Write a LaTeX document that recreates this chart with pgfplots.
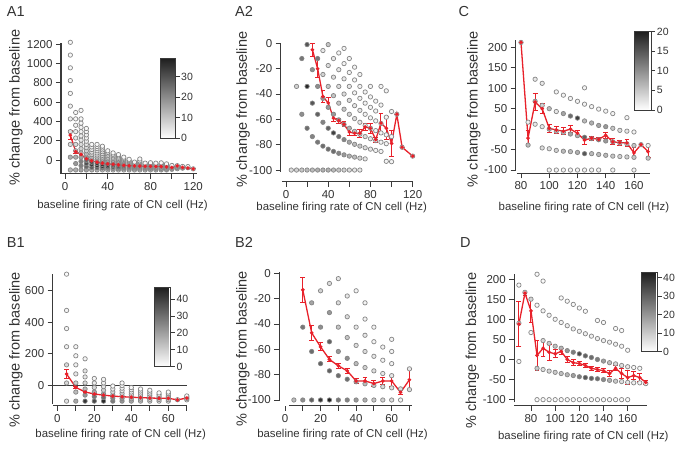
\documentclass[border=0pt]{standalone}
\usepackage{fontspec}
\setmainfont{Liberation Sans}
\usepackage{pgfplots}
\pgfplotsset{compat=1.18}
\definecolor{axgray}{HTML}{3A3A3A}
\definecolor{txt}{HTML}{333333}
\definecolor{mred}{HTML}{E8212A}
\definecolor{ptedge}{HTML}{858585}

\tikzset{axl/.style={axgray, line width=1.1pt}}
\pgfplotsset{
  colormap={gs}{color(0)=(white) color(1)=(black!88)},
  panel/.style={
    scale only axis, anchor=south west,
    axis x line*=bottom, axis y line*=left,
    axis line style={draw=none},
    tick align=outside,
    major tick length=5pt, minor tick length=5pt,
    tick style={axgray, line width=0.9pt},
    tick label style={font=\fontsize{11.5}{13}\selectfont, text=txt},
    xlabel style={font=\fontsize{11.4}{13}\selectfont, text=txt, anchor=center},
    ylabel style={font=\fontsize{14.5}{17}\selectfont, text=txt, anchor=center},
    /pgf/number format/assume math mode=true,
    /pgf/number format/1000 sep={},
    clip=false, point meta min=0,
    xlabel={baseline firing rate of CN cell (Hz)},
    ylabel={\% change from baseline},
  },
  cbar/.style={
    scale only axis, anchor=south west,
    at={(parent axis.south west)},
    axis line style={axgray, line width=0.9pt},
    tick align=outside, major tick length=4pt,
    tick style={axgray, line width=0.9pt},
    ytick pos=right, yticklabel pos=right,
    yticklabel style={font=\fontsize{10.5}{12}\selectfont, text=txt, inner sep=1.5pt},
    /pgf/number format/assume math mode=true,
  },
  dots/.style={scatter, only marks, mark=*, mark size=2.2pt, line width=0.7pt,
    point meta=explicit, scatter/use mapped color={draw=ptedge, fill=mapped color}},
  redl/.style={mred, line width=1.3pt, mark=*, mark size=1.1pt,
    error bars/y dir=both, error bars/y explicit,
    error bars/error bar style={line width=1pt, mred},
    error bars/error mark options={rotate=90, mred, mark size=2.4pt, line width=1pt}},
}

\begin{document}
\begin{tikzpicture}
\path[use as bounding box] (0pt,0pt) rectangle (675pt,448pt);

% ---------------- A1
\begin{axis}[panel, at={(61pt,274.3pt)}, width=136pt, height=131pt,
  xmin=-3.74, xmax=123.5, ymin=-139, ymax=1216,
  xtick={0,40,80,120}, minor xtick={20,60,100}, ytick={0,200,...,1200},
  point meta max=39,
  colorbar, colorbar style={cbar, xshift=91pt, yshift=35.4pt, width=15pt, height=80pt, ytick={0,10,20,30}},
  xlabel style={at={(axis description cs:0.452,0)}, yshift=-32pt},
  ylabel style={at={(axis description cs:-0.331,0.505)}},
]
\draw[axl] (axis cs:-3.74,-139) -- (axis cs:-3.74,1216);
\draw[axl] (axis cs:-3.74,-139) -- (axis cs:123.5,-139);
\addplot[dots] table[row sep=\\, meta index=2] {
5 -100 12\\ 5 32 14\\ 5 164 6\\ 5 296 5\\ 5 428 3\\ 5 560 2\\ 5 692 1\\ 5 824 1\\ 5 956 1\\ 5 1088 1\\ 5 1220 1\\
10 -100 14\\ 10 -34 18\\ 10 32 14\\ 10 98 9\\ 10 164 6\\ 10 230 4\\ 10 296 3\\ 10 362 2\\ 10 428 1\\ 10 494 1\\
15 -100 16\\ 15 -56 22\\ 15 -12 22\\ 15 32 16\\ 15 76 11\\ 15 120 8\\ 15 164 6\\ 15 208 4\\ 15 252 3\\ 15 296 2\\ 15 340 2\\ 15 384 1\\ 15 428 1\\ 15 516 1\\
20 -100 16\\ 20 -67 26\\ 20 -34 30\\ 20 -1 26\\ 20 32 18\\ 20 65 12\\ 20 98 8\\ 20 131 6\\ 20 164 4\\ 20 197 3\\ 20 230 2\\ 20 263 2\\ 20 296 1\\ 20 329 1\\
25 -100 14\\ 25 -73.6 28\\ 25 -47.2 34\\ 25 -20.8 30\\ 25 5.6 20\\ 25 32 12\\ 25 58.4 8\\ 25 84.8 5\\ 25 111.2 3\\ 25 137.6 2\\ 25 164 1\\
30 -100 12\\ 30 -78 28\\ 30 -56 36\\ 30 -34 34\\ 30 -12 24\\ 30 10 15\\ 30 32 10\\ 30 54 6\\ 30 76 4\\ 30 98 3\\ 30 120 2\\ 30 142 1\\ 30 164 1\\
35 -100 10\\ 35 -81.1 24\\ 35 -62.3 36\\ 35 -43.4 37\\ 35 -24.6 30\\ 35 -5.7 20\\ 35 13.1 12\\ 35 32 8\\ 35 50.9 5\\ 35 69.7 3\\ 35 88.6 2\\ 35 107.4 1\\ 35 126.3 1\\ 35 145.1 1\\
40 -100 8\\ 40 -83.5 20\\ 40 -67 34\\ 40 -50.5 38\\ 40 -34 34\\ 40 -17.5 25\\ 40 -1 15\\ 40 15.5 10\\ 40 32 6\\ 40 48.5 4\\ 40 65 2\\ 40 81.5 1\\ 40 98 1\\
45 -100 7\\ 45 -85.3 16\\ 45 -70.7 30\\ 45 -56 36\\ 45 -41.3 34\\ 45 -26.7 27\\ 45 -12 18\\ 45 2.7 10\\ 45 17.3 6\\ 45 32 4\\ 45 46.7 2\\ 45 61.3 1\\ 45 76 1\\
50 -100 6\\ 50 -86.8 14\\ 50 -73.6 26\\ 50 -60.4 34\\ 50 -47.2 33\\ 50 -34 26\\ 50 -20.8 18\\ 50 -7.6 10\\ 50 5.6 6\\ 50 18.8 4\\ 50 32 2\\ 50 45.2 1\\ 50 58.4 1\\
55 -100 5\\ 55 -88 12\\ 55 -76 22\\ 55 -64 30\\ 55 -52 30\\ 55 -40 24\\ 55 -28 16\\ 55 -16 9\\ 55 -4 5\\ 55 8 3\\ 55 20 2\\ 55 32 1\\
60 -100 5\\ 60 -89 10\\ 60 -78 18\\ 60 -67 26\\ 60 -56 26\\ 60 -45 20\\ 60 -34 13\\ 60 -23 8\\ 60 -12 4\\ 60 -1 2\\ 60 10 1\\
65 -100 4\\ 65 -89.8 9\\ 65 -79.7 15\\ 65 -69.5 20\\ 65 -59.4 20\\ 65 -49.2 14\\ 65 -39.1 8\\ 65 -28.9 4\\ 65 -18.8 2\\
70 -100 4\\ 70 -90.6 8\\ 70 -81.1 13\\ 70 -71.7 17\\ 70 -62.3 16\\ 70 -52.9 11\\ 70 -43.4 7\\ 70 -34 4\\ 70 -24.6 2\\ 70 -15.1 1\\ 70 -5.7 1\\ 70 13.1 1\\
75 -100 3\\ 75 -91.2 7\\ 75 -82.4 12\\ 75 -73.6 14\\ 75 -64.8 12\\ 75 -56 8\\ 75 -47.2 5\\ 75 -38.4 3\\ 75 -29.6 1\\
80 -100 3\\ 80 -91.8 6\\ 80 -83.5 10\\ 80 -75.3 12\\ 80 -67 10\\ 80 -58.8 7\\ 80 -50.5 4\\ 80 -42.3 3\\ 80 -34 2\\ 80 -25.8 1\\
85 -100 2\\ 85 -92.2 5\\ 85 -84.5 8\\ 85 -76.7 10\\ 85 -68.9 8\\ 85 -61.2 5\\ 85 -53.4 3\\ 85 -45.6 2\\ 85 -37.9 1\\ 85 -30.1 1\\
90 -100 2\\ 90 -92.7 4\\ 90 -85.3 6\\ 90 -78 8\\ 90 -70.7 6\\ 90 -63.3 4\\ 90 -56 3\\ 90 -48.7 2\\ 90 -41.3 1\\ 90 -34 1\\ 90 -26.7 1\\
95 -100 1\\ 95 -93.1 3\\ 95 -86.1 5\\ 95 -79.2 6\\ 95 -72.2 5\\ 95 -65.3 3\\ 95 -58.3 2\\ 95 -51.4 1\\ 95 -44.4 1\\ 95 -37.5 1\\
100 -93.4 2\\ 100 -86.8 4\\ 100 -80.2 4\\ 100 -73.6 3\\ 100 -67 2\\ 100 -60.4 1\\ 100 -53.8 1\\
105 -87.4 1\\ 105 -81.1 2\\ 105 -74.9 2\\ 105 -68.6 1\\ 105 -62.3 1\\ 105 -56 1\\
110 -82 1\\ 110 -76 1\\ 110 -70 1\\ 110 -64 1\\
115 -77 1\\ 115 -71.3 1\\ 115 -65.6 1\\
120 -89 1\\
};
\addplot[redl] table[row sep=\\, y error index=2] {
5 260 45\\ 10 90 15\\ 15 60 10\\ 20 15 6\\ 25 -5 4\\ 30 -20 3\\ 35 -30 3\\ 40 -37 2\\ 45 -42 2\\ 50 -47 2\\
55 -52 2\\ 60 -56 2\\ 65 -58 2\\ 70 -60 2\\ 75 -62 2\\ 80 -63 2\\ 85 -65 2\\ 90 -65 3\\ 95 -68 3\\ 100 -75 4\\
105 -58 5\\ 110 -74 3\\ 115 -80 0\\ 120 -89 0\\
};
\end{axis}

% ---------------- A2
\begin{axis}[panel, at={(280.7pt,266.3pt)}, width=132.6pt, height=139pt,
  xmin=-5, xmax=120.6, ymin=-109.2, ymax=0.5,
  xtick={0,40,80,120}, minor xtick={20,60,100}, ytick={-100,-80,...,0},
  point meta max=20,
  xlabel style={at={(axis description cs:0.46,0)}, yshift=-25.8pt},
  ylabel style={at={(axis description cs:-0.284,0.52)}},
]
\draw[axl] (axis cs:-5,-101.3) -- (axis cs:-5,0.5);
\draw[axl] (axis cs:-4,-109.2) -- (axis cs:120.6,-109.2);
\addplot[dots] table[row sep=\\, meta index=2] {
5 -100 3\\
10 -100 4\\ 10 -34 4\\
15 -100 5\\ 15 -56 10\\ 15 -12 12\\
20 -100 6\\ 20 -67 13\\ 20 -34 19\\ 20 -1 15\\
25 -100 6\\ 25 -73.6 11\\ 25 -47.2 15\\ 25 -20.8 10\\
30 -100 7\\ 30 -78 12\\ 30 -56 14\\ 30 -34 10\\ 30 -12 12\\
35 -100 7\\ 35 -81.1 13\\ 35 -62.3 11\\ 35 -43.4 9\\ 35 -24.6 4\\ 35 -5.7 2\\
40 -100 7\\ 40 -83.5 13\\ 40 -67 14\\ 40 -50.5 9\\ 40 -34 5\\ 40 -17.5 3\\ 40 -1 5\\
45 -100 6\\ 45 -85.3 13\\ 45 -70.7 17\\ 45 -56 9\\ 45 -41.3 5\\ 45 -26.7 3\\ 45 -12 2\\
50 -100 5\\ 50 -86.8 11\\ 50 -73.6 13\\ 50 -60.4 9\\ 50 -47.2 5\\ 50 -34 3\\ 50 -20.8 2\\ 50 -7.6 1\\
55 -100 4\\ 55 -88 9\\ 55 -76 11\\ 55 -64 8\\ 55 -52 5\\ 55 -40 3\\ 55 -28 2\\ 55 -16 1\\ 55 -4 1\\
60 -100 3\\ 60 -89 7\\ 60 -78 8\\ 60 -67 7\\ 60 -56 4\\ 60 -45 3\\ 60 -34 2\\ 60 -23 1\\ 60 -12 1\\
65 -100 2\\ 65 -89.8 6\\ 65 -79.7 6\\ 65 -69.5 5\\ 65 -59.4 3\\ 65 -49.2 2\\ 65 -39.1 1\\ 65 -28.9 1\\ 65 -18.8 1\\
70 -100 2\\ 70 -90.6 4\\ 70 -81.1 5\\ 70 -71.7 4\\ 70 -62.3 2\\ 70 -52.9 2\\ 70 -43.4 1\\ 70 -34 1\\ 70 -24.6 1\\
75 -91.2 2\\ 75 -82.4 3\\ 75 -73.6 3\\ 75 -64.8 2\\ 75 -56 1\\ 75 -47.2 1\\ 75 -38.4 1\\
80 -83.5 2\\ 80 -75.3 2\\ 80 -67 2\\ 80 -58.8 1\\ 80 -50.5 1\\ 80 -42.3 1\\ 80 -34 1\\
85 -84.5 1\\ 85 -76.7 2\\ 85 -68.9 1\\ 85 -61.2 1\\ 85 -53.4 1\\ 85 -45.6 1\\
90 -85.3 1\\ 90 -78 1\\ 90 -70.7 1\\ 90 -63.3 1\\ 90 -48.7 1\\ 90 -34 1\\
95 -93.1 1\\ 95 -79.2 1\\ 95 -72.2 1\\ 95 -58.3 1\\ 95 -37.5 1\\
100 -93.4 1\\ 100 -73.6 1\\ 100 -53.8 1\\
105 -56 1\\ 110 -82 1\\ 120 -89 1\\
};
\addplot[redl] table[row sep=\\, y error index=2] {
25 -5 5\\ 30 -20 7\\ 35 -42 5\\ 40 -47 4\\ 45 -59 2.5\\ 50 -61 2\\ 55 -64 2\\ 60 -70 3\\ 65 -71 2\\ 70 -71 3\\
75 -66 3\\ 80 -67 4\\ 85 -76 2\\ 90 -63 8\\ 95 -67 9\\ 100 -79 10\\ 105 -56 0\\ 110 -82 0\\ 120 -89 0\\
};
\end{axis}

% ---------------- C
\begin{axis}[panel, at={(515.7pt,274.7pt)}, width=133.8pt, height=133.3pt,
  xmin=76.25, xmax=171, ymin=-108, ymax=217.9,
  xtick={80,100,...,160}, ytick={-100,-50,...,200},
  point meta max=20,
  colorbar, colorbar style={cbar, xshift=110pt, yshift=63.3pt, width=17pt, height=78.3pt, ytick={0,5,10,15,20}},
  xlabel style={at={(axis description cs:0.51,0)}, yshift=-34pt},
  ylabel style={at={(axis description cs:-0.312,0.48)}},
]
\draw[axl] (axis cs:76.25,-102) -- (axis cs:76.25,217.9);
\draw[axl] (axis cs:77,-108) -- (axis cs:171,-108);
\addplot[dots] table[row sep=\\, meta index=2] {
80 212 1\\
85 17 1\\ 85 -39 6\\
90 122 2\\ 90 68 6\\ 90 12 2\\
95 112 2\\ 95 58 4\\ 95 6 2\\ 95 -46 3\\
100 50 6\\ 100 0 7\\ 100 -48 3\\ 100 -100 1\\
105 91 1\\ 105 43 2\\ 105 -5 6\\ 105 -52 4\\ 105 -100 1\\
110 83 1\\ 110 38 8\\ 110 -8 6\\ 110 -54 6\\ 110 -100 1\\
115 75 1\\ 115 32 13\\ 115 -12 8\\ 115 -55 6\\ 115 -100 1\\
120 68 1\\ 120 27 17\\ 120 -16 7\\ 120 -57 7\\ 120 -100 1\\
125 101 1\\ 125 61 1\\ 125 20 6\\ 125 -20 14\\ 125 -60 15\\ 125 -100 1\\
130 55 1\\ 130 15 7\\ 130 -23 8\\ 130 -60 6\\ 130 -100 1\\
135 49 1\\ 135 9 8\\ 135 -26 10\\ 135 -62 6\\ 135 -100 1\\
140 44 1\\ 140 6 9\\ 140 -29 9\\ 140 -64 6\\
145 38 1\\ 145 2 5\\ 145 -31 5\\ 145 -66 5\\ 145 -100 1\\
150 -3 3\\ 150 -34 4\\ 150 -67 4\\
155 28 1\\ 155 -5 2\\ 155 -36 3\\ 155 -68 4\\
160 -7 1\\ 160 -40 5\\ 160 -69 5\\ 160 -100 1\\
165 -38 1\\ 170 -40 1\\ 170 -71 5\\
};
\addplot[redl] table[row sep=\\, y error index=2] {
80 212 0\\ 85 -22 19\\ 90 66 20\\ 95 50 12\\ 100 2 10\\ 105 -2 9\\ 110 -5 8\\ 115 0 9\\ 120 -10 6\\ 125 -27 10\\
130 -22 5\\ 135 -25 4\\ 140 -15 7\\ 145 -31 7\\ 150 -33 6\\ 155 -34 9\\ 160 -58 14\\ 165 -38 2\\ 170 -55 15\\
};
\end{axis}

% ---------------- B1
\begin{axis}[panel, at={(52.7pt,42.3pt)}, width=134.1pt, height=131.7pt,
  xmin=-2.5, xmax=70, ymin=-129, ymax=706,
  xtick={0,20,40,60}, minor xtick={10,30,50,70}, ytick={0,200,400,600},
  point meta max=47,
  colorbar, colorbar style={cbar, xshift=93pt, yshift=39pt, width=16.6pt, height=79.4pt, ytick={0,10,...,40}},
  xlabel style={at={(axis description cs:0.507,0)}, yshift=-29pt},
  ylabel style={at={(axis description cs:-0.275,0.423)}},
]
\draw[axl] (axis cs:-2.5,-117) -- (axis cs:-2.5,706);
\draw[axl] (axis cs:-2.2,-129) -- (axis cs:70,-129);
\draw[axl] (axis cs:-2.5,0) -- (axis cs:70,0);
\addplot[dots] table[row sep=\\, meta index=2] {
5 -100 6\\ 5 15 8\\ 5 130 8\\ 5 245 3\\ 5 360 2\\ 5 475 2\\ 5 705 1\\
10 -100 18\\ 10 -42.5 14\\ 10 15 10\\ 10 72.5 5\\ 10 130 3\\ 10 187.5 2\\ 10 245 2\\
15 -100 42\\ 15 -61.7 22\\ 15 -23.3 14\\ 15 15 8\\ 15 53.3 5\\ 15 91.7 6\\ 15 168.3 2\\
20 -100 38\\ 20 -71.3 28\\ 20 -42.5 18\\ 20 -13.8 8\\ 20 15 4\\ 20 43.8 2\\
25 -100 45\\ 25 -77 30\\ 25 -54 20\\ 25 -31 10\\ 25 -8 5\\ 25 15 3\\ 25 38 2\\
30 -100 28\\ 30 -80.8 25\\ 30 -61.7 16\\ 30 -42.5 8\\ 30 -23.3 4\\ 30 -4.2 1\\
35 -100 22\\ 35 -83.6 22\\ 35 -67.1 14\\ 35 -50.7 8\\ 35 -34.3 4\\ 35 -17.9 2\\ 35 -1.4 1\\ 35 15 1\\
40 -100 18\\ 40 -85.6 16\\ 40 -71.3 10\\ 40 -56.9 6\\ 40 -42.5 3\\ 40 -28.1 2\\ 40 -13.8 1\\
45 -100 14\\ 45 -87.2 12\\ 45 -74.4 8\\ 45 -61.7 5\\ 45 -48.9 3\\ 45 -36.1 2\\ 45 -23.3 1\\
50 -100 10\\ 50 -88.5 8\\ 50 -77 6\\ 50 -65.5 4\\ 50 -54 2\\ 50 -42.5 1\\ 50 -31 1\\
55 -100 6\\ 55 -89.5 6\\ 55 -79.1 4\\ 55 -68.6 2\\ 55 -58.2 1\\ 55 -47.7 1\\
60 -100 5\\ 60 -90.4 4\\ 60 -80.8 3\\ 60 -71.3 2\\ 60 -61.7 1\\ 60 -52.1 1\\ 60 -42.5 1\\
65 -91.2 2\\ 70 -91.8 2\\ 70 -83.6 1\\ 70 -75.4 1\\ 70 -67.1 1\\
};
\addplot[redl] table[row sep=\\, y error index=2] {
5 72 30\\ 10 -13 5\\ 15 -42 4\\ 20 -55 3\\ 25 -62 3\\ 30 -68 2\\ 35 -72 2\\ 40 -75 2\\ 45 -78 2\\ 50 -80 2\\
55 -82 2\\ 60 -82 2\\ 65 -92 2\\ 70 -80 5\\
};
\end{axis}

% ---------------- B2
\begin{axis}[panel, at={(279.3pt,42.3pt)}, width=133pt, height=133.4pt,
  xmin=-3.2, xmax=71.6, ymin=-104.5, ymax=0.8,
  xtick={0,20,40,60}, minor xtick={10,30,50,70}, ytick={-100,-80,...,0},
  point meta max=20,
  xlabel style={at={(axis description cs:0.475,0)}, yshift=-29pt},
  ylabel style={at={(axis description cs:-0.273,0.425)}},
]
\draw[axl] (axis cs:-3.2,-100.5) -- (axis cs:-3.2,0.8);
\draw[axl] (axis cs:2.2,-104.5) -- (axis cs:71.6,-104.5);
\addplot[dots] table[row sep=\\, meta index=2] {
5 -100 6\\
10 -100 10\\ 10 -42.5 12\\
15 -100 14\\ 15 -61.7 13\\ 15 -23.3 8\\
20 -100 18\\ 20 -71.3 14\\ 20 -42.5 10\\ 20 -13.8 4\\
25 -100 20\\ 25 -77 14\\ 25 -54 14\\ 25 -31 9\\ 25 -8 3\\
30 -100 12\\ 30 -80.8 13\\ 30 -61.7 9\\ 30 -42.5 5\\ 30 -23.3 3\\ 30 -4.2 2\\
35 -100 11\\ 35 -83.6 13\\ 35 -67.1 10\\ 35 -50.7 5\\ 35 -34.3 3\\ 35 -17.9 2\\
40 -100 9\\ 40 -85.6 8\\ 40 -71.3 6\\ 40 -56.9 3\\ 40 -42.5 2\\ 40 -13.8 1\\
45 -100 7\\ 45 -87.2 6\\ 45 -74.4 4\\ 45 -61.7 3\\ 45 -48.9 2\\ 45 -36.1 1\\ 45 -23.3 1\\
50 -100 5\\ 50 -88.5 5\\ 50 -77 3\\ 50 -65.5 2\\ 50 -54 1\\ 50 -42.5 1\\
55 -100 4\\ 55 -89.5 3\\ 55 -79.1 2\\ 55 -68.6 1\\ 55 -58.2 1\\
60 -100 3\\ 60 -90.4 3\\ 60 -80.8 2\\ 60 -71.3 1\\ 60 -61.7 1\\ 60 -52.1 1\\
65 -100 1\\ 65 -91.2 3\\
70 -91.8 3\\ 70 -75.4 2\\
};
\addplot[redl] table[row sep=\\, y error index=2] {
10 -13 10\\ 15 -47 6\\ 20 -58 3\\ 25 -68 2\\ 30 -73 2\\ 35 -77 2\\ 40 -85 2\\ 45 -85 3\\ 50 -87 2\\ 55 -85 3\\
60 -85 4\\ 65 -94 2\\ 70 -84 8\\
};
\end{axis}

% ---------------- D
\begin{axis}[panel, at={(514.3pt,42.3pt)}, width=131.5pt, height=131.7pt,
  xmin=66.2, xmax=175, ymin=-115, ymax=212.6,
  xtick={80,100,...,160}, ytick={-100,-50,...,200},
  point meta max=43,
  colorbar, colorbar style={cbar, xshift=118.7pt, yshift=54pt, width=16pt, height=79.4pt, ytick={0,10,...,40}},
  xlabel style={at={(axis description cs:0.525,0)}, yshift=-31pt},
  ylabel style={at={(axis description cs:-0.318,0.418)}},
]
\draw[axl] (axis cs:66.2,-107) -- (axis cs:66.2,212.6);
\draw[axl] (axis cs:66.2,-115) -- (axis cs:176,-115);
\addplot[dots] table[row sep=\\, meta index=2] {
70 185 1\\ 70 90 2\\ 70 -5 1\\
75 167 6\\
80 150 8\\ 80 67 1\\
85 212 1\\ 85 135 1\\ 85 -22 10\\ 85 -100 1\\
90 195 1\\ 90 121 2\\ 90 47 8\\ 90 -25 6\\ 90 -100 1\\
95 110 2\\ 95 40 10\\ 95 -29 8\\ 95 -100 1\\
100 100 2\\ 100 33 12\\ 100 -32 10\\ 100 -100 1\\
105 153 1\\ 105 92 2\\ 105 28 14\\ 105 -35 12\\ 105 -100 1\\
110 145 1\\ 110 84 3\\ 110 22 20\\ 110 -38 14\\ 110 -100 1\\
115 137 1\\ 115 76 3\\ 115 18 25\\ 115 -40 18\\ 115 -100 1\\
120 128 1\\ 120 70 3\\ 120 14 35\\ 120 -43 25\\ 120 -100 1\\
125 120 1\\ 125 64 3\\ 125 9 30\\ 125 -45 32\\ 125 -100 1\\
130 58 3\\ 130 5 28\\ 130 -47 30\\ 130 -100 1\\
135 97 1\\ 135 52 3\\ 135 0 25\\ 135 -48 28\\ 135 -100 1\\
140 92 1\\ 140 47 3\\ 140 -4 18\\ 140 -50 22\\ 140 -100 1\\
145 43 3\\ 145 -8 12\\ 145 -52 15\\ 145 -100 1\\
150 77 1\\ 150 38 3\\ 150 -11 8\\ 150 -54 10\\ 150 -100 1\\
155 72 1\\ 155 33 2\\ 155 -15 6\\ 155 -55 6\\ 155 -100 1\\
160 23 1\\ 160 -18 4\\ 160 -57 4\\ 160 -100 1\\
165 -20 1\\ 165 -58 3\\ 170 -22 1\\ 170 -58 2\\ 175 -60 1\\
};
\addplot[redl] table[row sep=\\, y error index=2] {
70 88 55\\ 75 165 5\\ 80 121 29\\ 85 10 37\\ 90 28 20\\ 95 18 20\\ 100 14 10\\ 105 20 8\\ 110 0 8\\ 115 -8 7\\
120 -10 5\\ 125 -15 5\\ 130 -22 5\\ 135 -25 5\\ 140 -28 5\\ 145 -35 7\\ 150 -22 6\\ 155 -35 12\\ 160 -45 17\\ 165 -40 10\\
170 -45 10\\ 175 -57 5\\
};
\end{axis}

\node[anchor=base west, font=\fontsize{14.5}{16}\selectfont, text=txt] at (3.3pt,431.3pt) {A1};
\node[anchor=base west, font=\fontsize{14.5}{16}\selectfont, text=txt] at (231.7pt,431.3pt) {A2};
\node[anchor=base west, font=\fontsize{14.5}{16}\selectfont, text=txt] at (455pt,431.3pt) {C};
\node[anchor=base west, font=\fontsize{14.5}{16}\selectfont, text=txt] at (3.3pt,200.7pt) {B1};
\node[anchor=base west, font=\fontsize{14.5}{16}\selectfont, text=txt] at (231.7pt,200.7pt) {B2};
\node[anchor=base west, font=\fontsize{14.5}{16}\selectfont, text=txt] at (456.7pt,200.7pt) {D};
\end{tikzpicture}
\end{document}
